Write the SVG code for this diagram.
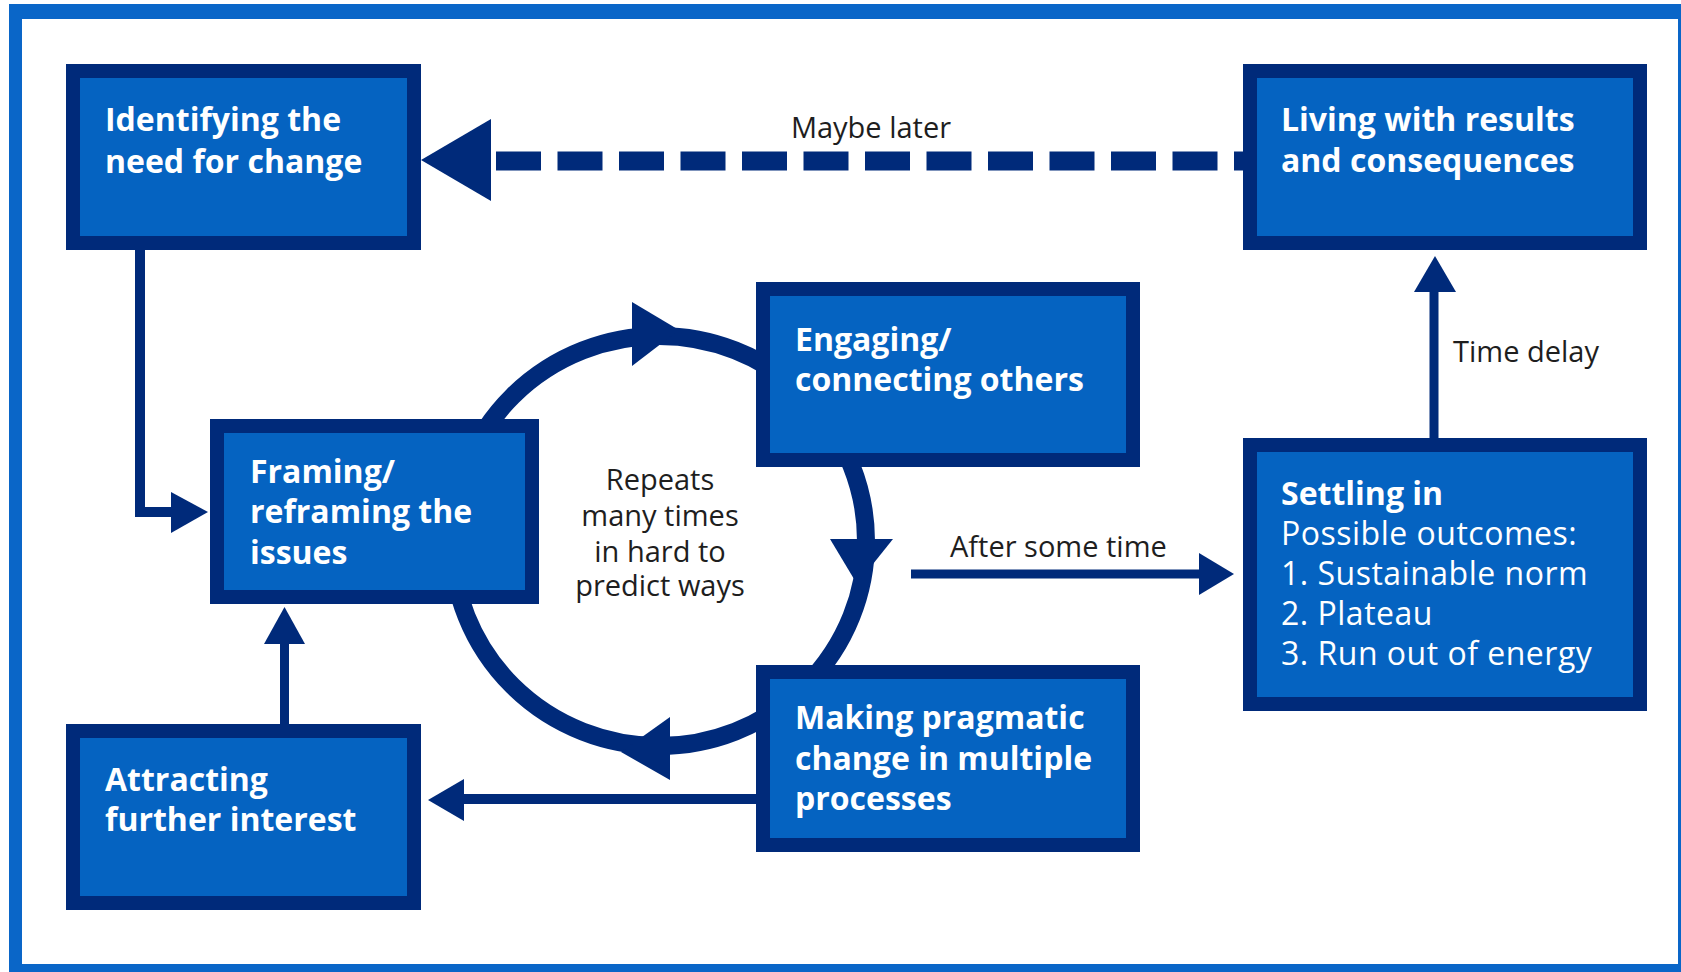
<svg xmlns="http://www.w3.org/2000/svg" width="1681" height="972" viewBox="0 0 1681 972">
<style>
.box{fill:#0563c1;stroke:#002a7a;stroke-width:14}
.nt{font-family:"Open Sans","Noto Sans",sans-serif;font-size:32px;fill:#ffffff}
.b{font-weight:700}
.r{font-weight:400;letter-spacing:0.5px}
.lbl{font-family:"Open Sans","Noto Sans",sans-serif;font-size:29px;fill:#1e1e1e}
.ln{fill:none;stroke:#002a7a}
.ah{fill:#002a7a}
</style>
<rect width="1681" height="972" fill="#ffffff"/>
<path d="M9,4H1681V972H9Z M22,19V964H1678V19Z" fill="#0a66c8" fill-rule="evenodd"/>
<g id="connectors">
<line class="ln" x1="496" y1="161" x2="1243" y2="161" stroke-width="19" stroke-dasharray="45 16.5"/>
<polygon class="ah" points="421,160 491,119 491,201"/>
<path class="ln" d="M140,250V512H176" stroke-width="10"/>
<polygon class="ah" points="171,492 171,533 208,512"/>
<line class="ln" x1="284.5" y1="724" x2="284.5" y2="640" stroke-width="9"/>
<polygon class="ah" points="264,644 305,644 284.5,607"/>
<line class="ln" x1="756" y1="799" x2="460" y2="799" stroke-width="10"/>
<polygon class="ah" points="464,779 464,821 428,800"/>
<line class="ln" x1="1434" y1="438" x2="1434" y2="288" stroke-width="9"/>
<polygon class="ah" points="1414,292 1456,292 1435,256"/>
<line class="ln" x1="911" y1="574" x2="1203" y2="574" stroke-width="9"/>
<polygon class="ah" points="1199,553 1199,595 1234,574"/>
<ellipse class="ln" cx="659" cy="541" rx="207" ry="205" stroke-width="18"/>
<polygon class="ah" points="632,302 632,366 679,330"/>
<polygon class="ah" points="830,539 893,539 857,584"/>
<polygon class="ah" points="670,717 670,780 621,752"/>
<text class="lbl" x="871" y="138" text-anchor="middle">Maybe later</text>
<text class="lbl" x="1453" y="362">Time delay</text>
<text class="lbl" x="950" y="557">After some time</text>
<text class="lbl" text-anchor="middle"><tspan x="660" y="490">Repeats</tspan><tspan x="660" y="526">many times</tspan><tspan x="660" y="562">in hard to</tspan><tspan x="660" y="596">predict ways</tspan></text>
</g>
<g id="n1">
<rect class="box" x="73" y="71" width="341" height="172"/>
<text class="nt b"><tspan x="105" y="131">Identifying the</tspan><tspan x="105" y="173">need for change</tspan></text>
</g>
<g id="n2">
<rect class="box" x="1250" y="71" width="390" height="172"/>
<text class="nt b"><tspan x="1281" y="131">Living with results</tspan><tspan x="1281" y="172">and consequences</tspan></text>
</g>
<g id="n3">
<rect class="box" x="217" y="426" width="315" height="171"/>
<text class="nt b"><tspan x="250" y="483">Framing/</tspan><tspan x="250" y="523">reframing the</tspan><tspan x="250" y="564">issues</tspan></text>
</g>
<g id="n4">
<rect class="box" x="763" y="289" width="370" height="171"/>
<text class="nt b"><tspan x="795" y="351">Engaging/</tspan><tspan x="795" y="391">connecting others</tspan></text>
</g>
<g id="n5">
<rect class="box" x="1250" y="445" width="390" height="259"/>
<text class="nt b" x="1281" y="505">Settling in</text>
<text class="nt r"><tspan x="1281" y="545">Possible outcomes:</tspan><tspan x="1281" y="585">1. Sustainable norm</tspan><tspan x="1281" y="625">2. Plateau</tspan><tspan x="1281" y="665">3. Run out of energy</tspan></text>
</g>
<g id="n6">
<rect class="box" x="73" y="731" width="341" height="172"/>
<text class="nt b"><tspan x="105" y="791">Attracting</tspan><tspan x="105" y="831">further interest</tspan></text>
</g>
<g id="n7">
<rect class="box" x="763" y="672" width="370" height="173"/>
<text class="nt b"><tspan x="795" y="729">Making pragmatic</tspan><tspan x="795" y="770">change in multiple</tspan><tspan x="795" y="810">processes</tspan></text>
</g>
</svg>
